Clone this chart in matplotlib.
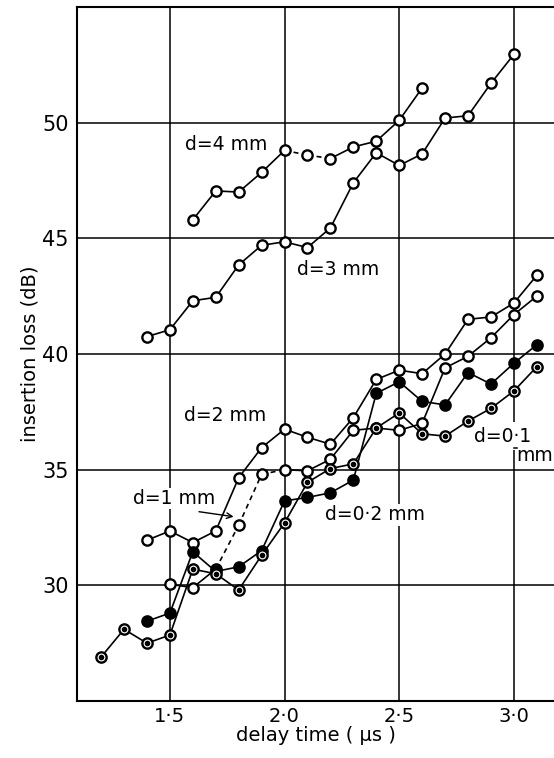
import matplotlib
matplotlib.use("Agg")
import matplotlib.pyplot as plt

plt.rcParams['font.family'] = ['DejaVu Sans']

# ---- data (delay time in microseconds, insertion loss in dB) ----
x_d4 = [1.6, 1.7, 1.8, 1.9, 2.0, 2.1, 2.2, 2.3, 2.4, 2.5, 2.6]
y_d4 = [45.8, 47.05, 47.0, 47.85, 48.8, 48.6, 48.45, 48.95, 49.2, 50.1, 51.5]

x_d3 = [1.4, 1.5, 1.6, 1.7, 1.8, 1.9, 2.0, 2.1, 2.2, 2.3, 2.4, 2.5, 2.6, 2.7, 2.8, 2.9, 3.0]
y_d3 = [40.75, 41.05, 42.3, 42.45, 43.85, 44.7, 44.85, 44.6, 45.45, 47.4, 48.7, 48.15,
        48.65, 50.2, 50.3, 51.7, 52.95]

x_d2 = [1.4, 1.5, 1.6, 1.7, 1.8, 1.9, 2.0, 2.1, 2.2, 2.3, 2.4, 2.5, 2.6, 2.7, 2.8, 2.9, 3.0, 3.1]
y_d2 = [31.95, 32.35, 31.85, 32.35, 34.65, 35.95, 36.75, 36.4, 36.1, 37.25, 38.9, 39.3,
        39.15, 40.0, 41.5, 41.6, 42.2, 43.4]

x_d1 = [1.5, 1.6, 1.7, 1.8, 1.9, 2.0, 2.1, 2.2, 2.3, 2.4, 2.5, 2.6, 2.7, 2.8, 2.9, 3.0, 3.1]
y_d1 = [30.05, 29.9, 30.7, 32.6, 34.8, 35.0, 34.95, 35.45, 36.7, 36.8, 36.7, 37.0,
        39.4, 39.9, 40.7, 41.7, 42.5]

x_d02 = [1.4, 1.5, 1.6, 1.7, 1.8, 1.9, 2.0, 2.1, 2.2, 2.3, 2.4, 2.5, 2.6, 2.7, 2.8, 2.9, 3.0, 3.1]
y_d02 = [28.45, 28.8, 31.45, 30.6, 30.8, 31.5, 33.65, 33.8, 34.0, 34.55, 38.3, 38.8,
         37.95, 37.8, 39.2, 38.7, 39.6, 40.4]

x_d01 = [1.2, 1.3, 1.4, 1.5, 1.6, 1.7, 1.8, 1.9, 2.0, 2.1, 2.2, 2.3, 2.4, 2.5, 2.6, 2.7,
         2.8, 2.9, 3.0, 3.1]
y_d01 = [26.9, 28.1, 27.5, 27.85, 30.7, 30.5, 29.8, 31.3, 32.7, 34.45, 35.05, 35.25,
         36.8, 37.45, 36.55, 36.45, 37.1, 37.65, 38.4, 39.45]

x_ticks = [1.5, 2.0, 2.5, 3.0]
x_ticklabels = ["1·5", "2·0", "2·5", "3·0"]
y_ticks = [30, 35, 40, 45, 50]
y_ticklabels = ["30", "35", "40", "45", "50"]

# ---- figure ----
W, H = 554, 758
fig = plt.figure(figsize=(W / 100, H / 100), dpi=100)
ax = fig.add_axes([77 / W, (H - 701) / H, (W - 77) / W, (701 - 7) / H])
ax.set_xlim(1.095, 3.175)
ax.set_ylim(25, 55)

LW = 1.2
for xv in x_ticks:
    ax.axvline(xv, color='black', lw=1.1, zorder=1)
for yv in y_ticks:
    ax.axhline(yv, color='black', lw=1.1, zorder=1)

for side in ['left', 'bottom', 'top']:
    ax.spines[side].set_linewidth(1.5)
ax.spines['right'].set_visible(False)

ax.set_xticks(x_ticks)
ax.set_xticklabels(x_ticklabels, fontsize=14)
ax.set_yticks(y_ticks)
ax.set_yticklabels(y_ticklabels, fontsize=15)
ax.tick_params(axis='x', length=0, pad=4)
ax.tick_params(axis='y', length=0, pad=6)
ax.set_xlabel("delay time ( μs )", fontsize=14, labelpad=0)
ax.set_ylabel("insertion loss (dB)", fontsize=14, labelpad=2)


def draw_series(xs, ys, face, dashed_segments=(), center_dot=False):
    for i in range(len(xs) - 1):
        ls = (0, (3, 2.5)) if i in dashed_segments else '-'
        ax.plot(xs[i:i + 2], ys[i:i + 2], color='black', lw=LW, ls=ls, zorder=3)
    ax.plot(xs, ys, ls='none', marker='o', ms=7.4, mfc=face, mec='black', mew=1.7, zorder=4)
    if center_dot:
        ax.plot(xs, ys, ls='none', marker='o', ms=3.0, mfc='black', mec='black', zorder=5)


draw_series(x_d4, y_d4, 'white', dashed_segments=(4, 5))
draw_series(x_d3, y_d3, 'white')
draw_series(x_d2, y_d2, 'white')
draw_series(x_d1, y_d1, 'white', dashed_segments=(2, 3, 4))
draw_series(x_d02, y_d02, 'black')
draw_series(x_d01, y_d01, 'white', center_dot=True)

box = dict(facecolor='white', edgecolor='none', pad=1.0)
fs = 13.5
ax.text(1.565, 49.05, "d=4 mm", fontsize=fs, ha='left', va='center', zorder=2, bbox=box)
ax.text(2.055, 43.65, "d=3 mm", fontsize=fs, ha='left', va='center', zorder=2, bbox=box)
ax.text(1.56, 37.35, "d=2 mm", fontsize=fs, ha='left', va='center', zorder=2, bbox=box)
ax.text(1.34, 33.75, "d=1 mm", fontsize=fs, ha='left', va='center', zorder=2, bbox=box)
ax.text(2.176, 33.05, "d=0·2 mm", fontsize=fs, ha='left', va='center', zorder=2, bbox=box)
ax.text(2.827, 36.45, "d=0·1", fontsize=fs, ha='left', va='center', zorder=2,
        bbox=dict(facecolor='white', edgecolor='none', pad=3.0))
ax.text(3.012, 35.6, "mm", fontsize=fs, ha='left', va='center', zorder=2)
ax.plot([3.0, 3.012], [35.95, 35.95], color='black', lw=1.1, zorder=2)
ax.annotate("", xy=(1.79, 32.95), xytext=(1.615, 33.2),
            arrowprops=dict(arrowstyle='->', color='black', lw=1.0), zorder=6)

fig.savefig("out.png", dpi=100)
